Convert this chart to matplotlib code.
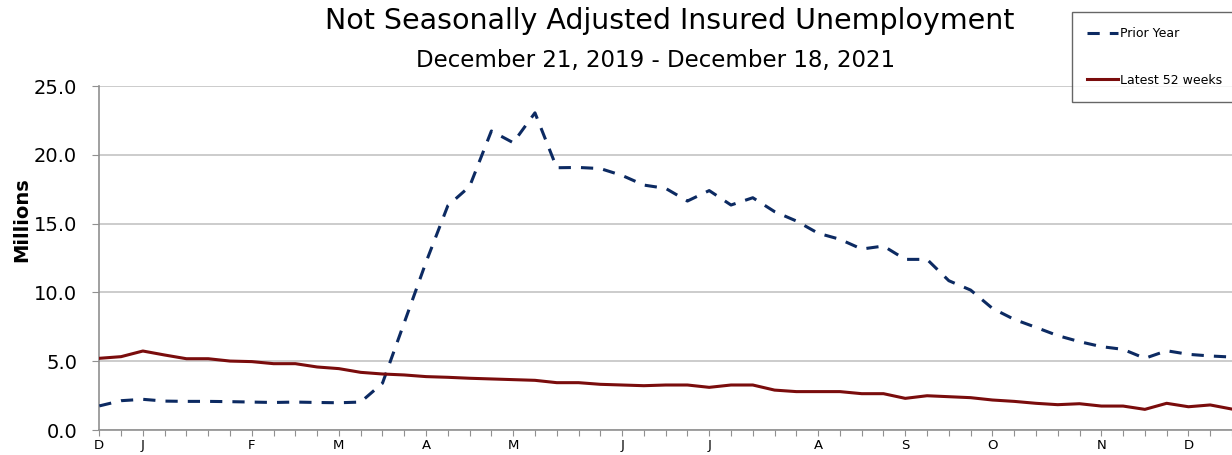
import matplotlib
matplotlib.use("Agg")
import matplotlib.pyplot as plt
from matplotlib.lines import Line2D

plt.rcParams['font.family'] = ['DejaVu Sans']

prior_year = [1.75, 2.13, 2.23, 2.10, 2.08, 2.08, 2.06, 2.03, 2.00, 2.03,
              2.00, 1.98, 2.03, 3.40, 7.80, 12.20, 16.30, 17.70, 21.73, 20.88,
              23.05, 19.06, 19.08, 19.00, 18.50, 17.80, 17.56, 16.64, 17.40, 16.35,
              16.88, 15.87, 15.19, 14.30, 13.86, 13.15, 13.37, 12.40, 12.40, 10.85,
              10.17, 8.84, 8.04, 7.46, 6.86, 6.42, 6.06, 5.86, 5.21, 5.76,
              5.50, 5.38, 5.30]
latest = [5.21, 5.33, 5.74, 5.45, 5.18, 5.18, 5.01, 4.97, 4.82, 4.82,
          4.58, 4.46, 4.19, 4.07, 4.00, 3.88, 3.83, 3.76, 3.71, 3.66,
          3.61, 3.44, 3.44, 3.32, 3.27, 3.22, 3.27, 3.27, 3.10, 3.27,
          3.27, 2.90, 2.79, 2.79, 2.79, 2.64, 2.64, 2.30, 2.49, 2.42,
          2.35, 2.18, 2.08, 1.94, 1.84, 1.91, 1.74, 1.74, 1.50, 1.94,
          1.69, 1.82, 1.52]
month_pos = [0, 2, 7, 11, 15, 19, 24, 28, 33, 37, 41, 46, 50]
month_lbl = ['D', 'J', 'F', 'M', 'A', 'M', 'J', 'J', 'A', 'S', 'O', 'N', 'D']
y_ticks = [0, 5, 10, 15, 20, 25]

BLUE = '#0c2a62'
RED = '#7a0c0c'
W, H = 1232, 455

fig = plt.figure(figsize=(W / 100, H / 100), dpi=100)
ax = fig.add_axes([99.3 / W, 1 - 430 / H, (W - 99.3) / W, 344 / H])

x = list(range(len(prior_year)))
ax.plot(x, prior_year, color=BLUE, lw=2.2, dashes=(4, 3.3), zorder=3)
ax.plot(list(range(len(latest))), latest, color=RED, lw=2.2, zorder=3)

ax.set_xlim(0, (W - 99.3) / 21.97)
ax.set_ylim(0, 25)
ax.set_yticks(y_ticks)
ax.set_yticklabels([f'{v:.1f}' for v in y_ticks], fontsize=14)
ax.set_xticks(list(range(len(prior_year))))
lbls = [''] * len(prior_year)
for p, l in zip(month_pos, month_lbl):
    lbls[p] = l
ax.set_xticklabels(lbls, fontsize=9.5)
ax.tick_params(axis='x', length=4.5, color='#909090', pad=2)
ax.tick_params(axis='y', length=5, color='#909090', pad=11)
ax.grid(axis='y', color='#c4c4c4', lw=1.2)
ax.set_axisbelow(True)
for s in ['top', 'right']:
    ax.spines[s].set_visible(False)
for s in ['left', 'bottom']:
    ax.spines[s].set_color('#909090')
    ax.spines[s].set_linewidth(1.2)

fig.text(22 / W, 1 - 220 / H, 'Millions', rotation=90, ha='center', va='center',
         fontsize=14, fontweight='bold')
fig.text(670 / W, 1 - 21 / H, 'Not Seasonally Adjusted Insured Unemployment',
         ha='center', va='center', fontsize=20.5)
fig.text(656 / W, 1 - 61 / H, 'December 21, 2019 - December 18, 2021',
         ha='center', va='center', fontsize=16.5)

handles = [Line2D([], [], color=BLUE, lw=2.2, dashes=(4, 3.3)),
           Line2D([], [], color=RED, lw=2.2)]
leg = fig.legend(handles, ['Prior Year', 'Latest 52 weeks'],
                 loc='upper left', bbox_to_anchor=(1072 / W, 1 - 12 / H),
                 fontsize=9, frameon=True, fancybox=False, handlelength=2.5,
                 handletextpad=0.15, labelspacing=2.7, borderpad=1.2,
                 borderaxespad=0)
leg.get_frame().set_edgecolor('#404040')
leg.get_frame().set_linewidth(1.0)

fig.savefig('out.png', dpi=100)
